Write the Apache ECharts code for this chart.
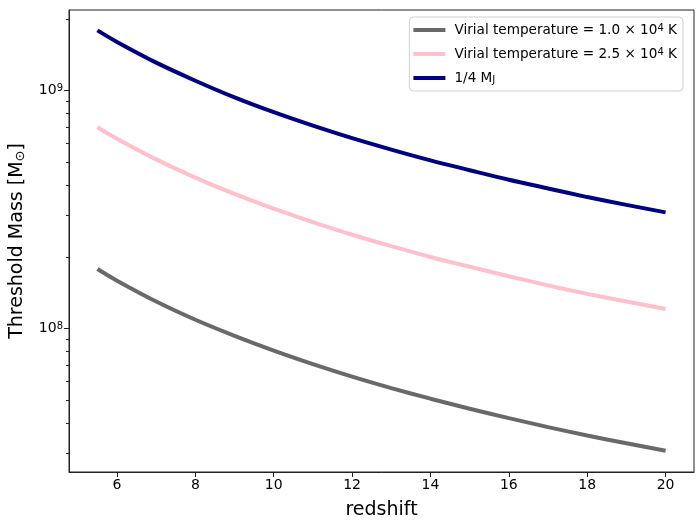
<!DOCTYPE html>
<html>
<head>
<meta charset="utf-8">
<script src="https://cdn.jsdelivr.net/npm/echarts@6/dist/echarts.min.js"></script>
<style>
  html, body { margin: 0; padding: 0; background: #fff; }
  #main { width: 700px; height: 530px; }
</style>
</head>
<body>
<div id="main"></div>
<script>
// values
var redshift = [5.5, 6, 7, 8, 9, 10, 11, 12, 13, 14, 15, 16, 17, 18, 19, 20];
var massT1 = [1.78e8, 1.59e8, 1.30e8, 1.09e8, 9.33e7, 8.09e7, 7.10e7, 6.29e7, 5.63e7, 5.08e7, 4.61e7, 4.21e7, 3.86e7, 3.56e7, 3.30e7, 3.07e7];
var massT25 = [7.02e8, 6.28e8, 5.14e8, 4.31e8, 3.68e8, 3.19e8, 2.80e8, 2.48e8, 2.22e8, 2.00e8, 1.82e8, 1.66e8, 1.52e8, 1.40e8, 1.30e8, 1.21e8];
var massJeans = [1.79e9, 1.60e9, 1.31e9, 1.10e9, 9.36e8, 8.11e8, 7.12e8, 6.31e8, 5.65e8, 5.09e8, 4.63e8, 4.22e8, 3.88e8, 3.57e8, 3.31e8, 3.08e8];

var xTicks = [6, 8, 10, 12, 14, 16, 18, 20];
var yMajorTicks = [1e8, 1e9];
var yMinorTicks = [3e7, 4e7, 5e7, 6e7, 7e7, 8e7, 9e7, 2e8, 3e8, 4e8, 5e8, 6e8, 7e8, 8e8, 9e8, 2e9];

var seriesNames = ['T1', 'T25', 'MJ'];
var legendText = {
  T1: 'Virial temperature = 1.0 × 10{sup|4} K',
  T25: 'Virial temperature = 2.5 × 10{sup|4} K',
  MJ: '1/4 M{sub|J}'
};

function pairs(ys) {
  return redshift.map(function (z, i) { return [z, ys[i]]; });
}

var font = 'DejaVu Sans';
var chart = echarts.init(document.getElementById('main'));

var option = {
  animation: false,
  textStyle: { fontFamily: font },
  grid: { left: 69, right: 6, top: 10, bottom: 58, show: true, borderColor: '#222', borderWidth: 1, backgroundColor: 'transparent' },
  legend: {
    orient: 'vertical',
    right: 17,
    top: 17,
    padding: [6, 6, 6, 4],
    itemGap: 10,
    itemWidth: 32,
    itemHeight: 4,
    icon: 'rect',
    borderColor: '#d0d0d0',
    borderWidth: 1,
    borderRadius: 4,
    backgroundColor: 'rgba(255,255,255,0.8)',
    data: seriesNames,
    formatter: function (name) { return legendText[name]; },
    textStyle: {
      fontFamily: font, fontSize: 13.6, color: '#000',
      padding: [0, 0, 0, 4],
      rich: {
        sup: { fontFamily: font, fontSize: 10, verticalAlign: 'top', color: '#000' },
        sub: { fontFamily: font, fontSize: 10, verticalAlign: 'bottom', color: '#000' }
      }
    }
  },
  xAxis: {
    type: 'value',
    min: 4.775,
    max: 20.725,
    name: 'redshift',
    nameLocation: 'middle',
    nameGap: 29,
    nameTextStyle: { fontFamily: font, fontSize: 19, color: '#000' },
    axisLine: { show: true, lineStyle: { color: '#222', width: 1 } },
    axisTick: { show: true, inside: false, length: 5, customValues: xTicks, lineStyle: { color: '#222' } },
    axisLabel: { show: true, customValues: xTicks, fontFamily: font, fontSize: 14, color: '#000', margin: 6 },
    splitLine: { show: false }
  },
  yAxis: [
    {
      type: 'log',
      logBase: 10,
      min: 2.5e7,
      max: 2.18e9,
      name: 'Threshold Mass [M{sub|⊙}]',
      nameLocation: 'middle',
      nameGap: 42,
      nameRotate: 90,
      nameTextStyle: {
        fontFamily: font, fontSize: 19, color: '#000',
        rich: { sub: { fontFamily: font, fontSize: 13, verticalAlign: 'bottom', color: '#000' } }
      },
      axisLine: { show: true, lineStyle: { color: '#222', width: 1 } },
      axisTick: { show: true, inside: false, length: 5, customValues: yMajorTicks, lineStyle: { color: '#222' } },
      axisLabel: {
        show: true,
        customValues: yMajorTicks,
        margin: 6,
        formatter: function (v) { return '10{sup|' + Math.round(Math.log10(v)) + '}'; },
        fontFamily: font, fontSize: 14, color: '#000',
        rich: { sup: { fontFamily: font, fontSize: 10, verticalAlign: 'top', color: '#000' } }
      },
      splitLine: { show: false }
    },
    {
      type: 'log',
      logBase: 10,
      min: 2.5e7,
      max: 2.18e9,
      position: 'left',
      axisLine: { show: false },
      axisTick: { show: true, inside: false, length: 3, customValues: yMinorTicks, lineStyle: { color: '#222' } },
      axisLabel: { show: false },
      splitLine: { show: false }
    }
  ],
  series: [
    { name: 'T1', type: 'line', data: pairs(massT1), showSymbol: false, smooth: 0.3, lineStyle: { color: '#696969', width: 4 }, itemStyle: { color: '#696969' } },
    { name: 'T25', type: 'line', data: pairs(massT25), showSymbol: false, smooth: 0.3, lineStyle: { color: '#ffc0cb', width: 4 }, itemStyle: { color: '#ffc0cb' } },
    { name: 'MJ', type: 'line', data: pairs(massJeans), showSymbol: false, smooth: 0.3, lineStyle: { color: '#000080', width: 4 }, itemStyle: { color: '#000080' } }
  ]
};

chart.setOption(option);
</script>
</body>
</html>
